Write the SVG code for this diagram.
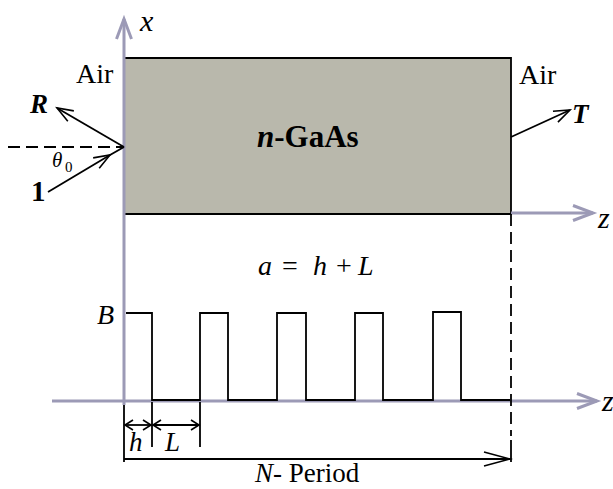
<svg xmlns="http://www.w3.org/2000/svg" width="613" height="489" viewBox="0 0 613 489">
<style>
.t{font-family:"Liberation Serif","Times New Roman",serif;fill:#000}
.i{font-style:italic}
.b{font-weight:bold}
.ax{stroke:#9c9ab6;stroke-width:3;fill:none}
.ln{stroke:#000;stroke-width:1.8;fill:none}
.dash{stroke:#000;stroke-width:1.8;fill:none;stroke-dasharray:12 6}
</style>
<defs>
<marker id="ag" markerUnits="userSpaceOnUse" markerWidth="30" markerHeight="20" viewBox="-25 -10 30 20" refX="0" refY="0" orient="auto" overflow="visible"><path d="M-20,-7.5 L0,0 L-20,7.5" fill="none" stroke="#9c9ab6" stroke-width="3"/></marker>
<marker id="ab" markerUnits="userSpaceOnUse" markerWidth="30" markerHeight="20" viewBox="-25 -10 30 20" refX="0" refY="0" orient="auto" overflow="visible"><path d="M-16,-6 L0,0 L-16,6" fill="none" stroke="#000" stroke-width="1.6"/></marker>
<marker id="abl" markerUnits="userSpaceOnUse" markerWidth="30" markerHeight="20" viewBox="-25 -10 30 20" refX="0" refY="0" orient="auto" overflow="visible"><path d="M-26,-7 L0,0 L-26,7" fill="none" stroke="#000" stroke-width="1.6"/></marker>
<marker id="as" markerUnits="userSpaceOnUse" markerWidth="20" markerHeight="20" viewBox="-15 -10 20 20" refX="0" refY="0" orient="auto-start-reverse" overflow="visible"><path d="M-8,-5 L0,0 L-8,5" fill="none" stroke="#000" stroke-width="1.6"/></marker>
</defs>

<g id="slab">
<rect x="124" y="58" width="387" height="156" fill="#b9b8ac"/>
<path class="ln" d="M124,58 H511 V214 H124" stroke-width="2.2"/>
<text class="t i b" x="257" y="147" font-size="31">n<tspan font-style="normal">-GaAs</tspan></text>
</g>

<g id="axes">
<path class="ax" d="M124,405 V19" marker-end="url(#ag)"/>
<text class="t i" x="140" y="31" font-size="30">x</text>
<path class="ax" d="M511,213 H593" marker-end="url(#ag)"/>
<text class="t i" x="598" y="228" font-size="30">z</text>
<path class="ax" d="M52,401 H597" marker-end="url(#ag)"/>
<text class="t i" x="602" y="411" font-size="30">z</text>
</g>

<g id="labels">
<text class="t" x="76" y="83" font-size="28">Air</text>
<text class="t" x="519" y="84" font-size="28">Air</text>
<text class="t i" x="258" y="275" font-size="28">a</text>
<text class="t" x="282" y="275" font-size="28">=</text>
<text class="t i" x="313" y="275" font-size="28">h</text>
<text class="t" x="336" y="275" font-size="28">+</text>
<text class="t i" x="358" y="275" font-size="28">L</text>
<text class="t i" x="97" y="324" font-size="28">B</text>
</g>

<g id="rays">
<path class="dash" d="M8,147 H124"/>
<path class="ln" d="M124,147 L57,108" marker-end="url(#ab)"/>
<text class="t i b" x="30" y="113" font-size="27">R</text>
<path class="ln" d="M48,192 L110,155 L124,147" marker-mid="url(#ab)"/>
<text class="t b" x="31" y="201" font-size="29">1</text>
<text class="t i" x="52" y="167" font-size="21">θ</text>
<text class="t" x="65" y="172" font-size="15">0</text>
<path class="ln" d="M511,137 L570,110" marker-end="url(#ab)"/>
<text class="t i b" x="572" y="123" font-size="27">T</text>
</g>

<g id="waveform">
<path class="ln" d="M126,313 H152 V400 H200 V313 H228 V400 H277 V313 H306 V400 H355 V313 H383 V400 H433 V312 H461 V400 H510"/>
</g>

<g id="dimensions">
<path class="dash" d="M511,214 V436"/>
<path class="ln" d="M511,440 V462"/>
<path class="ln" d="M124,405 V462"/>
<path class="ln" d="M152,402 V447"/>
<path class="ln" d="M200,402 V447"/>
<path class="ln" d="M125,425 H151" marker-start="url(#as)" marker-end="url(#as)"/>
<path class="ln" d="M153,425 H199" marker-start="url(#as)" marker-end="url(#as)"/>
<text class="t i" x="129" y="451" font-size="27">h</text>
<text class="t i" x="165" y="451" font-size="27">L</text>
<path class="ln" d="M124,459 H510" marker-end="url(#abl)"/>
<text class="t" x="255" y="482" font-size="27"><tspan font-style="italic">N</tspan>- Period</text>
</g>
</svg>
